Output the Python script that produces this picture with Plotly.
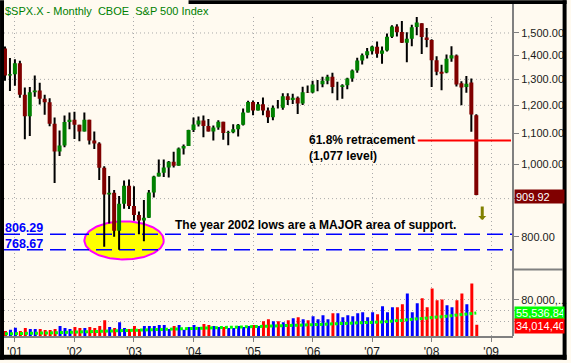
import math
import plotly.graph_objects as go

# ---------------- data ----------------
months = [f"{y}-{m:02d}" for y in range(2000, 2009) for m in range(1, 13)
          if "2000-11" <= f"{y}-{m:02d}" <= "2008-10"]

opens = [1429.40, 1315.18,
         1320.28, 1366.01, 1239.94, 1160.33, 1249.46, 1255.82, 1224.42, 1211.23, 1133.58, 1040.94, 1059.78, 1139.45,
         1148.08, 1130.20, 1106.73, 1147.39, 1076.92, 1067.14, 989.82, 911.62, 916.07, 815.28, 885.76, 936.31,
         879.82, 855.70, 841.15, 848.18, 916.92, 963.59, 974.50, 990.31, 1008.01, 995.97, 1050.71, 1058.20,
         1111.92, 1131.13, 1144.94, 1126.21, 1107.30, 1120.68, 1140.84, 1101.72, 1104.24, 1114.58, 1130.20, 1173.82,
         1211.92, 1181.27, 1203.60, 1180.59, 1156.85, 1191.50, 1191.33, 1234.18, 1220.33, 1228.81, 1207.01, 1249.48,
         1248.29, 1280.08, 1280.66, 1294.87, 1310.61, 1270.09, 1270.20, 1276.66, 1303.82, 1335.85, 1377.94, 1400.63,
         1418.03, 1437.90, 1406.80, 1420.83, 1482.37, 1530.62, 1504.66, 1455.18, 1473.96, 1527.29, 1545.79, 1479.63,
         1467.97, 1378.60, 1330.45, 1328.32, 1385.97, 1399.62, 1284.91, 1269.42, 1287.83, 1164.17]

highs = [1438.46, 1389.06,
         1383.37, 1376.38, 1267.42, 1269.30, 1315.93, 1286.62, 1239.78, 1226.27, 1155.40, 1110.61, 1163.38, 1173.62,
         1176.55, 1130.20, 1173.94, 1147.84, 1106.59, 1070.74, 994.46, 965.00, 924.02, 907.44, 951.57, 954.28,
         935.05, 864.64, 895.90, 924.24, 965.38, 1015.33, 1015.41, 1011.01, 1040.29, 1053.79, 1063.65, 1112.56,
         1155.38, 1158.98, 1163.23, 1150.57, 1127.74, 1146.34, 1140.84, 1109.68, 1131.54, 1132.92, 1188.46, 1217.33,
         1217.80, 1212.44, 1229.11, 1191.88, 1199.56, 1219.59, 1245.15, 1245.86, 1243.13, 1233.34, 1270.64, 1275.80,
         1294.90, 1297.57, 1310.88, 1318.16, 1326.70, 1290.68, 1280.42, 1306.74, 1340.28, 1389.45, 1407.89, 1431.81,
         1441.61, 1461.57, 1438.89, 1498.02, 1535.56, 1540.56, 1555.90, 1503.89, 1538.74, 1576.09, 1545.79, 1523.57,
         1471.77, 1396.02, 1359.68, 1404.05, 1440.24, 1404.05, 1292.17, 1313.15, 1303.04, 1167.03]

lows = [1294.90, 1254.07,
        1274.62, 1228.33, 1081.19, 1091.99, 1232.00, 1203.03, 1165.54, 1124.87, 944.75, 1026.76, 1054.31, 1114.53,
        1081.66, 1074.36, 1106.73, 1063.46, 1048.96, 952.92, 775.68, 833.44, 800.20, 768.63, 872.57, 871.70,
        840.34, 806.29, 788.90, 847.85, 902.83, 963.59, 962.10, 960.84, 990.36, 995.97, 1031.20, 1058.20,
        1105.08, 1124.44, 1087.16, 1107.23, 1076.32, 1113.32, 1078.78, 1060.72, 1101.29, 1090.19, 1127.60, 1173.76,
        1163.75, 1180.95, 1163.69, 1136.15, 1146.18, 1188.30, 1183.55, 1201.07, 1205.35, 1168.20, 1201.07, 1246.59,
        1245.74, 1253.61, 1268.42, 1280.74, 1245.34, 1219.29, 1224.54, 1261.30, 1290.93, 1327.10, 1360.98, 1385.93,
        1403.97, 1389.42, 1363.98, 1416.37, 1476.70, 1484.18, 1454.25, 1370.60, 1439.29, 1489.56, 1406.10, 1435.65,
        1270.05, 1316.75, 1256.98, 1324.35, 1373.07, 1272.00, 1200.44, 1247.45, 1106.42, 909.19]

closes = [1315.23, 1320.28,
          1366.01, 1239.94, 1160.33, 1249.46, 1255.82, 1224.42, 1211.23, 1133.58, 1040.94, 1059.78, 1139.45, 1148.08,
          1130.20, 1106.73, 1147.39, 1076.92, 1067.14, 989.82, 911.62, 916.07, 815.28, 885.76, 936.31, 879.82,
          855.70, 841.15, 848.18, 916.92, 963.59, 974.50, 990.31, 1008.01, 995.97, 1050.71, 1058.20, 1111.92,
          1131.13, 1144.94, 1126.21, 1107.30, 1120.68, 1140.84, 1101.72, 1104.24, 1114.58, 1130.20, 1173.82, 1211.92,
          1181.27, 1203.60, 1180.59, 1156.85, 1191.50, 1191.33, 1234.18, 1220.33, 1228.81, 1207.01, 1249.48, 1248.29,
          1280.08, 1280.66, 1294.87, 1310.61, 1270.09, 1270.20, 1276.66, 1303.82, 1335.85, 1377.94, 1400.63, 1418.30,
          1438.24, 1406.82, 1420.86, 1482.37, 1530.62, 1503.35, 1455.27, 1473.99, 1526.75, 1549.38, 1481.14, 1468.36,
          1378.55, 1330.63, 1322.70, 1385.59, 1400.38, 1280.00, 1267.38, 1282.83, 1166.36, 909.92]

# monthly volume (millions of shares)
volume = [22400, 24800,
          28400, 22400, 28000, 26000, 26000, 26000, 24200, 24200, 26000, 31500, 27800, 26000,
          29600, 27800, 27800, 29600, 27800, 31500, 42400, 29600, 27800, 38700, 27800, 26000,
          31500, 26000, 31500, 31500, 31500, 33300, 33300, 26300, 31500, 33300, 24800, 29600,
          33300, 29600, 35100, 33300, 31500, 29600, 29600, 27800, 27800, 31500, 29600, 31500,
          33300, 31500, 40500, 44200, 40500, 40500, 38700, 42400, 46000, 47800, 44200, 42400,
          49600, 44200, 51400, 44200, 55100, 55100, 47800, 51400, 49600, 55100, 56900, 47800,
          56900, 53300, 67800, 56900, 66000, 66000, 71400, 91400, 56900, 73300, 82400, 66000,
          100500, 78700, 80500, 69600, 66000, 78700, 91400, 71400, 109600, 34014.4]

# volume moving average
volume_avg = [17200, 17300,
              17400, 17500, 17600, 17700, 17800, 17900, 18100, 18400, 19200, 19600, 19900, 20200,
              20400, 20600, 20800, 21000, 21200, 21500, 21900, 22400, 23200, 23700, 24100, 24400,
              24700, 25000, 25300, 25600, 25800, 26000, 26200, 26400, 26600, 26900, 27300, 27600,
              27900, 28100, 28300, 28500, 28700, 28900, 29100, 29300, 29600, 29900, 30100, 30300,
              30500, 30700, 31000, 31300, 31600, 31900, 32200, 32500, 32800, 33000, 33300, 33600,
              33900, 34200, 34600, 35000, 35400, 35800, 36200, 36600, 37000, 37300, 37600, 37900,
              38300, 38700, 39200, 39800, 40500, 41200, 42000, 42900, 43700, 44500, 45300, 46100,
              46900, 47800, 48700, 49600, 50600, 51700, 52800, 53900, 54800, 55536.84]

year_labels = ["'01", "'02", "'03", "'04", "'05", "'06", "'07", "'08", "'09"]
price_ticks = [800, 900, 1000, 1100, 1200, 1300, 1400, 1500]
price_hidden_ticks = [900]                 # covered by the last-price box
price_grid = [900, 1000, 1200, 1300, 1500]
volume_ticks = [40000, 60000, 80000]
volume_ticktext = ["", "", "80,000,..."]   # lower labels are covered by the value boxes
support_levels = [806.29, 768.67]
retracement_level = [1077]
volume_box_labels = ["55,536,84", "34,014,40"]

title_text = "$SPX.X - Monthly\u00a0\u00a0CBOE\u00a0\u00a0S&P 500 Index"
note_retr = ["61.8% retracement", "(1,077 level)"]
note_support = "The year 2002 lows are a MAJOR area of support."

# ---------------- style / layout constants ----------------
W, H = 571, 363
PL, PR, PT, PB = 4, 517, 17, 339          # plot area in pixels
CREAM = "#FFFAF0"
GRID = "#AAAAAA"
FONT = "Liberation Sans"
UP_C, DN_C = "#008000", "#800000"
VUP_C, VDN_C = "#0000FF", "#FF0000"


def xp(px):
    return (px - PL) / (PR - PL)


def yp(py):
    return (PB - py) / (PB - PT)


N = len(months)
idx = list(range(N))
up = [c >= o for o, c in zip(opens, closes)]
X0, X1 = -0.2, 102.4
price_dom = [yp(272), 1.0]
vol_dom = [0.0, yp(285)]
first_jan = months.index("2001-01")
year_pos = [first_jan + 12 * k for k in range(len(year_labels))]


def segments(sel, a, b):
    xs, ys = [], []
    for i in idx:
        if sel(i):
            xs += [i, i, None]
            ys += [a[i], b[i], None]
    return xs, ys


fig = go.Figure()

# price gridlines
gx, gy = [], []
for lv in price_grid:
    gx += [X0, X1, None]
    gy += [lv, lv, None]
fig.add_trace(go.Scatter(x=gx, y=gy, mode="lines", xaxis="x", yaxis="y",
                         line=dict(color=GRID, width=1, dash="1px,3px")))

# ellipse around the 2002 lows
e_i0, e_i1, e_plo, e_phi = 16, 32, 746, 839
ec, er = (e_i0 + e_i1) / 2, (e_i1 - e_i0) / 2
lc, lr = (math.log10(e_plo) + math.log10(e_phi)) / 2, (math.log10(e_phi) - math.log10(e_plo)) / 2
ex = [ec + er * math.cos(2 * math.pi * k / 120) for k in range(121)]
ey = [10 ** (lc + lr * math.sin(2 * math.pi * k / 120)) for k in range(121)]
fig.add_trace(go.Scatter(x=ex, y=ey, mode="lines", fill="toself", fillcolor="#FFFF00",
                         line=dict(color="#FF00FF", width=2), xaxis="x", yaxis="y"))

# support lines
for lv in support_levels:
    fig.add_trace(go.Scatter(x=[X0, X1], y=[lv, lv], mode="lines", xaxis="x", yaxis="y",
                             line=dict(color="#0000FF", width=1.5, dash="16px,7px")))

# candles
wx, wy = segments(lambda i: True, lows, highs)
fig.add_trace(go.Scatter(x=wx, y=wy, mode="lines", line=dict(color="black", width=2),
                         xaxis="x", yaxis="y"))
ux, uy = segments(lambda i: up[i], opens, closes)
fig.add_trace(go.Scatter(x=ux, y=uy, mode="lines", line=dict(color=UP_C, width=4),
                         xaxis="x", yaxis="y"))
dx, dy = segments(lambda i: not up[i], opens, closes)
fig.add_trace(go.Scatter(x=dx, y=dy, mode="lines", line=dict(color=DN_C, width=4),
                         xaxis="x", yaxis="y"))

# 61.8% retracement line
fig.add_trace(go.Scatter(x=[83.2, 102.0], y=retracement_level * 2, mode="lines",
                         line=dict(color="#FF0000", width=2), xaxis="x", yaxis="y"))

# volume
fig.add_trace(go.Bar(x=idx, y=volume, width=0.6, offset=-0.2,
                     marker=dict(color=[VUP_C if u else VDN_C for u in up], line=dict(width=0)),
                     xaxis="x2", yaxis="y2"))
fig.add_trace(go.Scatter(x=idx, y=volume_avg, mode="lines",
                         line=dict(color="#00FF00", width=3, dash="3px,2px"),
                         xaxis="x2", yaxis="y2"))

axis_common = dict(range=[X0, X1], tickvals=year_pos, showgrid=True, gridcolor=GRID,
                   griddash="1px,3px", gridwidth=1, zeroline=False)

fig.update_layout(
    width=W, height=H,
    margin=dict(l=PL, r=W - PR, t=PT, b=H - PB),
    paper_bgcolor=CREAM, plot_bgcolor=CREAM,
    showlegend=False, hovermode=False,
    font=dict(family=FONT, size=11, color="#1a1a1a"),
    xaxis=dict(**axis_common, anchor="y", showticklabels=False, ticks=""),
    xaxis2=dict(**axis_common, anchor="y2", matches="x", ticktext=year_labels,
                ticks="outside", ticklen=4, tickcolor="#808080", tickwidth=1,
                showline=True, linecolor="#808080", linewidth=2,
                tickfont=dict(size=12, color="#1a1a1a")),
    yaxis=dict(domain=price_dom, type="log",
               range=[math.log10(723), math.log10(1575.7)],
               side="right", anchor="x", tickvals=price_ticks,
               ticktext=["" if v in price_hidden_ticks else f"{v:,.2f}" for v in price_ticks],
               ticks="outside", ticklen=5, tickcolor="#808080",
               showgrid=False, zeroline=False, tickfont=dict(size=11)),
    yaxis2=dict(domain=vol_dom, range=[13300, 111500], side="right", anchor="x2",
                tickvals=volume_ticks, ticktext=volume_ticktext,
                ticks="outside", ticklen=5, tickcolor="#808080",
                showgrid=True, gridcolor=GRID, griddash="1px,3px", zeroline=False,
                tickfont=dict(size=11)),
)

shapes = []
# frame lines
shapes.append(dict(type="line", xref="paper", yref="paper", x0=xp(517), x1=xp(517),
                   y0=yp(4), y1=yp(339), line=dict(color="#808080", width=2)))
shapes.append(dict(type="line", xref="paper", yref="paper", x0=xp(517), x1=xp(567),
                   y0=yp(272), y1=yp(272), line=dict(color="#808080", width=2)))
# black border
for x0, x1, y0, y1 in [(0, 4, 0, 363), (567, 571, 0, 363), (0, 571, 358, 363), (190, 571, 0, 4)]:
    shapes.append(dict(type="rect", xref="paper", yref="paper", x0=xp(x0), x1=xp(x1),
                       y0=yp(y1), y1=yp(y0), fillcolor="black", line=dict(width=0), layer="above"))
fig.update_layout(shapes=shapes)

ann = []
ann.append(dict(text=title_text, xref="paper", yref="paper", x=xp(3), y=yp(11),
                xanchor="left", yanchor="middle", showarrow=False,
                font=dict(size=11, color="#008000")))
ann.append(dict(text=f"<b>{note_retr[0]}</b>", xref="paper", yref="paper", x=xp(309), y=yp(141.5),
                xanchor="left", yanchor="middle", showarrow=False, font=dict(size=12, color="black")))
ann.append(dict(text=f"<b>{note_retr[1]}</b>", xref="paper", yref="paper", x=xp(309), y=yp(157.5),
                xanchor="left", yanchor="middle", showarrow=False, font=dict(size=12, color="black")))
ann.append(dict(text=f"<b>{note_support}</b>", xref="paper", yref="paper", x=xp(174), y=yp(226.5),
                xanchor="left", yanchor="middle", showarrow=False, font=dict(size=12, color="black")))
for lv, py in zip(support_levels, [230, 246.5]):
    ann.append(dict(text=f"<b>{lv:.2f}</b>", xref="paper", yref="paper", x=xp(3), y=yp(py),
                    xanchor="left", yanchor="middle", showarrow=False,
                    font=dict(size=12.5, color="#0000FF")))
# last value boxes
ann.append(dict(text=f"{closes[-1]:.2f}", xref="paper", yref="paper", x=xp(518), y=yp(198),
                xanchor="left", yanchor="middle", showarrow=False, align="left",
                width=47, height=11, borderpad=1, bgcolor=DN_C,
                font=dict(size=11, color="white")))
ann.append(dict(text=volume_box_labels[0], xref="paper", yref="paper", x=xp(518), y=yp(316),
                xanchor="left", yanchor="middle", showarrow=False, align="left",
                width=47, height=10, borderpad=1, bgcolor="#00FF00",
                font=dict(size=11, color="white")))
ann.append(dict(text=volume_box_labels[1], xref="paper", yref="paper", x=xp(518), y=yp(329),
                xanchor="left", yanchor="middle", showarrow=False, align="left",
                width=47, height=12, borderpad=1, bgcolor="#FF0000",
                font=dict(size=11, color="white")))
# down arrow
ann.append(dict(text="", xref="paper", yref="paper", x=xp(486), y=yp(222),
                ax=0, ay=-15, showarrow=True, arrowhead=1, arrowsize=0.45, arrowwidth=3,
                arrowcolor="#808000"))
fig.update_layout(annotations=ann)

fig.write_html("out.html", config={"displayModeBar": False},
               post_script="document.body.style.margin='0';document.body.style.overflow='hidden';")
